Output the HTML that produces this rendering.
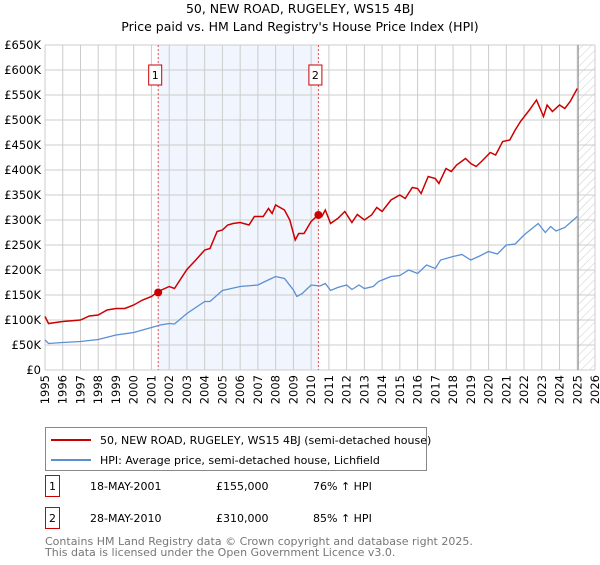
<!DOCTYPE html>
<html><head><meta charset="utf-8"><style>
body{margin:0;background:#fff;font-family:"Liberation Sans","DejaVu Sans",sans-serif;}
svg text{font-family:"DejaVu Sans","Liberation Sans",sans-serif;}
</style></head><body>
<svg id="chart" width="600" height="560" xmlns="http://www.w3.org/2000/svg">
<defs><pattern id="hatch" patternUnits="userSpaceOnUse" width="6" height="6" patternTransform="rotate(45)"><line x1="0" y1="0" x2="0" y2="6" stroke="#ccc" stroke-width="1"/></pattern></defs>
<text x="300" y="13" text-anchor="middle" font-size="12.5">50, NEW ROAD, RUGELEY, WS15 4BJ</text>
<text x="300" y="31" text-anchor="middle" font-size="12.5">Price paid vs. HM Land Registry's House Price Index (HPI)</text>
<g id="plot"></g>
<g>
<rect x="45.5" y="427.5" width="381" height="43" fill="#fff" stroke="#888"/>
<line x1="51" y1="440" x2="91" y2="440" stroke="#cc0000" stroke-width="2"/>
<text x="100" y="444" font-size="11">50, NEW ROAD, RUGELEY, WS15 4BJ (semi-detached house)</text>
<line x1="51" y1="460" x2="91" y2="460" stroke="#5b8fd4" stroke-width="2"/>
<text x="100" y="464" font-size="11">HPI: Average price, semi-detached house, Lichfield</text>
</g>
<g font-size="11">
<rect x="45.5" y="475.5" width="14" height="21" fill="#fff" stroke="#cc0000"/><text x="52.5" y="490" text-anchor="middle">1</text>
<text x="90" y="490">18-MAY-2001</text><text x="216" y="490">£155,000</text><text x="313" y="490">76% ↑ HPI</text>
<rect x="45.5" y="507.5" width="14" height="21" fill="#fff" stroke="#cc0000"/><text x="52.5" y="522" text-anchor="middle">2</text>
<text x="90" y="522">28-MAY-2010</text><text x="216" y="522">£310,000</text><text x="313" y="522">85% ↑ HPI</text>
</g>
<text x="45" y="545" font-size="11" fill="#777">Contains HM Land Registry data © Crown copyright and database right 2025.</text>
<text x="45" y="556" font-size="11" fill="#777">This data is licensed under the Open Government Licence v3.0.</text>
</svg>
<script>
const yTicks=[0,50,100,150,200,250,300,350,400,450,500,550,600,650];
const yTickLabels=["£0","£50K","£100K","£150K","£200K","£250K","£300K","£350K","£400K","£450K","£500K","£550K","£600K","£650K"];
const xYears=[1995,1996,1997,1998,1999,2000,2001,2002,2003,2004,2005,2006,2007,2008,2009,2010,2011,2012,2013,2014,2015,2016,2017,2018,2019,2020,2021,2022,2023,2024,2025,2026];
const saleDates=[2001.38,2010.41];
const salePrices=[155,310];
const saleLabels=["1","2"];
const dataEnd=2025.05;
const redT=[1995,1995.2,1996,1997,1997.5,1998,1998.5,1999,1999.5,2000,2000.5,2001,2001.38,2002,2002.3,2003,2003.5,2004,2004.3,2004.7,2005,2005.3,2005.6,2006,2006.5,2006.8,2007.3,2007.6,2007.8,2008,2008.5,2008.8,2009.1,2009.3,2009.6,2010,2010.4,2010.6,2010.8,2011.1,2011.5,2011.9,2012.3,2012.6,2013,2013.4,2013.7,2014,2014.5,2015,2015.3,2015.7,2016,2016.2,2016.6,2017,2017.2,2017.6,2017.9,2018.2,2018.7,2019,2019.3,2019.6,2020.1,2020.4,2020.8,2021.2,2021.5,2021.8,2022.3,2022.7,2023.1,2023.3,2023.6,2024,2024.3,2024.6,2025];
const redV=[107,93,97,100,108,110,120,123,123,130,140,147,157,167,163,201,220,240,243,277,280,290,293,295,290,307,307,323,313,330,320,300,260,273,273,297,310,307,320,293,303,317,295,311,300,310,325,317,340,350,343,365,363,353,387,383,373,403,397,410,423,413,407,417,435,430,457,460,480,497,520,540,507,530,517,530,523,537,563];
const blueT=[1995,1995.2,1996,1997,1998,1999,2000,2001,2001.5,2002,2002.3,2003,2004,2004.3,2005,2005.5,2006,2007,2007.4,2008,2008.5,2009,2009.2,2009.5,2010,2010.5,2010.8,2011.1,2011.5,2012,2012.3,2012.7,2013,2013.5,2013.8,2014.5,2015,2015.5,2016,2016.5,2017,2017.3,2018,2018.5,2019,2019.5,2020,2020.5,2021,2021.5,2022,2022.8,2023.2,2023.5,2023.8,2024.3,2025];
const blueV=[60,53,55,57,61,70,75,85,90,93,92,113,137,137,159,163,167,170,177,187,183,160,147,153,170,168,173,159,165,170,161,170,163,167,177,187,189,200,193,210,203,220,227,231,220,228,237,232,250,252,270,293,275,287,278,285,307];

const L=45,R=595,T=45,B=370;
const x=t=>L+(t-1995)*(R-L)/31;
const y=v=>B-v*(B-T)/650;
const NS="http://www.w3.org/2000/svg";
const g=document.getElementById('plot');
function mk(tag,attrs){const e=document.createElementNS(NS,tag);for(const k in attrs)e.setAttribute(k,attrs[k]);g.appendChild(e);return e;}
let e;
e=mk('rect',{x:L,y:T,width:R-L,height:B-T,fill:'#fff'});


e=mk('rect',{x:x(saleDates[0]),y:T,width:x(saleDates[1])-x(saleDates[0]),height:B-T,fill:'#f1f5fd'});


e=mk('rect',{x:x(dataEnd),y:T,width:R-x(dataEnd),height:B-T,fill:'url(#hatch)'});


yTicks.forEach((v,i)=>{
  e=mk('line',{x1:L,x2:R,y1:y(v),y2:y(v),stroke:'#ccc','stroke-width':1});
  
  
  e=mk('text',{x:L-4,y:y(v)+4,'text-anchor':'end','font-size':11.5});
  e.textContent=yTickLabels[i];
  
  
});
xYears.forEach(yr=>{
  e=mk('line',{x1:x(yr),x2:x(yr),y1:T,y2:B,stroke:'#ccc','stroke-width':1});
  
  
  e=mk('text',{x:0,y:0,'text-anchor':'end','font-size':11.5,transform:`translate(${x(yr)+4},375) rotate(-90)`});
  e.textContent=yr;
  
  
});
e=mk('line',{x1:x(dataEnd),x2:x(dataEnd),y1:T,y2:B,stroke:'#888','stroke-width':1});


saleDates.forEach((d,i)=>{
  e=mk('line',{x1:x(d),x2:x(d),y1:T,y2:B,stroke:'#e05050','stroke-width':1,'stroke-dasharray':'2,2'});
  
  
  e=mk('rect',{x:x(d)-9.5,y:65,width:13,height:20,fill:'#fff',stroke:'#cc0000'});
  
  
  e=mk('text',{x:x(d)-3,y:79,'text-anchor':'middle','font-size':11});
  e.textContent=saleLabels[i];
  
  
});
const pts=(ts,vs)=>ts.map((t,i)=>x(t).toFixed(1)+','+y(vs[i]).toFixed(1)).join(' ');
e=mk('polyline',{points:pts(blueT,blueV),fill:'none',stroke:'#5b8fd4','stroke-width':1.3});


e=mk('polyline',{points:pts(redT,redV),fill:'none',stroke:'#cc0000','stroke-width':1.5});


saleDates.forEach((d,i)=>{
  e=mk('circle',{cx:x(d),cy:y(salePrices[i]),r:4,fill:'#cc0000'});
  
  
});
</script>
</body></html>
